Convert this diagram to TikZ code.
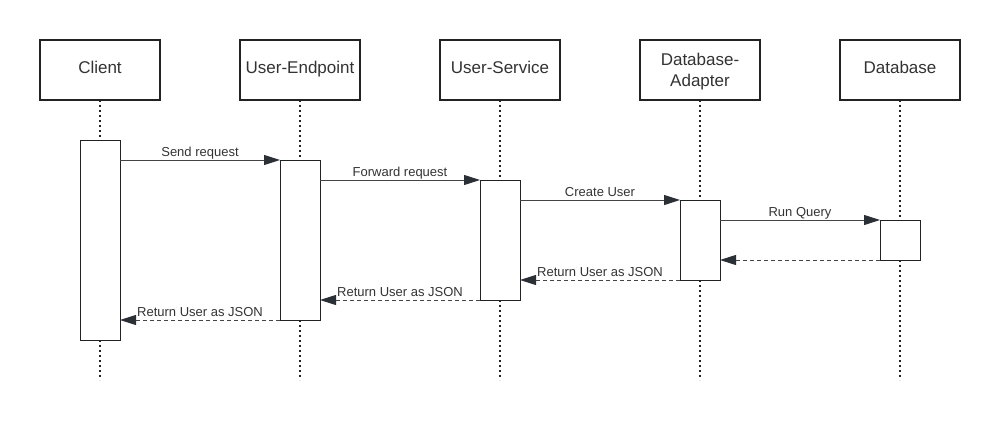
\documentclass[tikz,border=0pt]{standalone}
\usepackage{fontspec}
\setmainfont{Liberation Sans}
\usetikzlibrary{arrows.meta,calc}
\definecolor{ink}{HTML}{333333}
\definecolor{edge}{HTML}{222222}
\definecolor{msgline}{HTML}{444444}
\definecolor{tipfill}{HTML}{2B2F36}
\begin{document}
\begin{tikzpicture}[x=1pt,y=-1pt,
  actor/.style={draw=edge,line width=2pt,fill=white,minimum width=120pt,minimum height=60pt,
    inner sep=0pt,outer sep=0pt,align=center,font=\fontsize{17}{20.4}\selectfont,text=ink,text depth=6pt},
  act/.style={draw=edge,line width=1pt,fill=white,minimum width=40pt,inner sep=0pt,outer sep=0pt},
  life/.style={draw=edge,line width=2pt,dash pattern=on 2pt off 3pt},
  msg/.style={draw=msgline,line width=1pt,-{Triangle[length=16pt,width=10pt,fill=tipfill,color=tipfill]}},
  ret/.style={msg,dash pattern=on 4pt off 3pt},
  lbl/.style={font=\fontsize{13}{15}\selectfont,text=ink,anchor=base,yshift=4pt,inner sep=0pt,midway}]
\useasboundingbox (0,0) rectangle (1000,420);
% participants
\node[actor] (c) at (100,70) {Client};
\node[actor] (ue) at (300,70) {User-Endpoint};
\node[actor] (us) at (500,70) {User-Service};
\node[actor,text depth=0pt] (da) at (700,70) {Database-\\Adapter};
\node[actor] (db) at (900,70) {Database};
% lifelines
\foreach \n in {c,ue,us,da,db} \draw[life] (\n.south) -- ++(0,280);
% activations
\node[act,minimum height=200pt] (a1) at (100,240) {};
\node[act,minimum height=160pt] (a2) at (300,240) {};
\node[act,minimum height=120pt] (a3) at (500,240) {};
\node[act,minimum height=80pt] (a4) at (700,240) {};
\node[act,minimum height=40pt] (a5) at (900,240) {};
% messages
\draw[msg] ($(a1.north east)+(0,20)$) -- node[lbl]{Send request} (a2.north west);
\draw[msg] ($(a2.north east)+(0,20)$) -- node[lbl]{Forward request} (a3.north west);
\draw[msg] ($(a3.north east)+(0,20)$) -- node[lbl]{Create User} (a4.north west);
\draw[msg] ($(a4.north east)+(0,20)$) -- node[lbl]{Run Query} (a5.north west);
\draw[ret] (a5.south west) -- ($(a4.south east)+(0,-20)$);
\draw[ret] (a4.south west) -- node[lbl]{Return User as JSON} ($(a3.south east)+(0,-20)$);
\draw[ret] (a3.south west) -- node[lbl]{Return User as JSON} ($(a2.south east)+(0,-20)$);
\draw[ret] (a2.south west) -- node[lbl]{Return User as JSON} ($(a1.south east)+(0,-20)$);
\end{tikzpicture}
\end{document}
